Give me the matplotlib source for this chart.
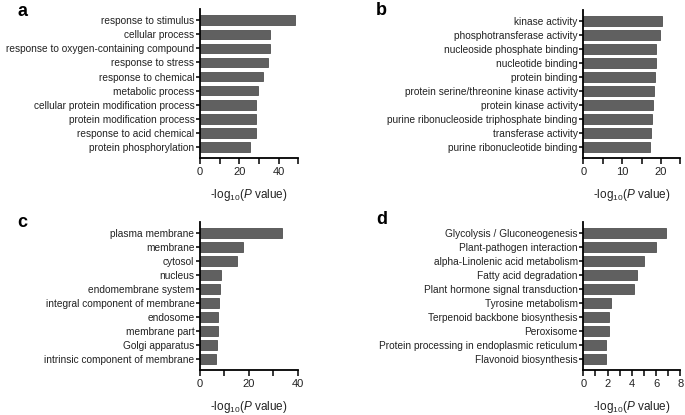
import matplotlib.pyplot as plt
from matplotlib.ticker import MultipleLocator

plt.rcParams['font.family'] = ['Liberation Sans', 'DejaVu Sans']
plt.rcParams['mathtext.fontset'] = 'custom'
plt.rcParams['mathtext.rm'] = 'Liberation Sans'
plt.rcParams['mathtext.it'] = 'Liberation Sans:italic'

# panel a - biological process
terms_a = ['response to stimulus', 'cellular process', 'response to oxygen-containing compound',
           'response to stress', 'response to chemical', 'metabolic process',
           'cellular protein modification process', 'protein modification process',
           'response to acid chemical', 'protein phosphorylation']
vals_a = [48.1, 35.6, 35.6, 34.6, 31.9, 29.4, 28.6, 28.6, 28.6, 25.6]

# panel b - molecular function
terms_b = ['kinase activity', 'phosphotransferase activity', 'nucleoside phosphate binding',
           'nucleotide binding', 'protein binding', 'protein serine/threonine kinase activity',
           'protein kinase activity', 'purine ribonucleoside triphosphate binding',
           'transferase activity', 'purine ribonucleotide binding']
vals_b = [20.2, 19.8, 18.8, 18.8, 18.6, 18.1, 18.0, 17.8, 17.5, 17.3]

# panel c - cellular component
terms_c = ['plasma membrane', 'membrane', 'cytosol', 'nucleus', 'endomembrane system',
           'integral component of membrane', 'endosome', 'membrane part',
           'Golgi apparatus', 'intrinsic component of membrane']
vals_c = [33.6, 17.8, 15.3, 8.7, 8.2, 7.6, 7.4, 7.4, 7.0, 6.6]

# panel d - KEGG pathways
terms_d = ['Glycolysis / Gluconeogenesis', 'Plant-pathogen interaction',
           'alpha-Linolenic acid metabolism', 'Fatty acid degradation',
           'Plant hormone signal transduction', 'Tyrosine metabolism',
           'Terpenoid backbone biosynthesis', 'Peroxisome',
           'Protein processing in endoplasmic reticulum', 'Flavonoid biosynthesis']
vals_d = [6.86, 6.0, 5.0, 4.4, 4.19, 2.31, 2.15, 2.15, 1.9, 1.85]

W, H = 685, 415
fig = plt.figure(figsize=(W / 100, H / 100), dpi=100)


def make_panel(rect, letter, terms, vals, xmax, major, minor, letter_xy):
    left, top, right, bottom = rect
    ax = fig.add_axes([left / W, 1 - bottom / H, (right - left) / W, (bottom - top) / H])
    y = list(range(len(terms)))
    ax.barh(y, vals, height=0.68, color='#606060', edgecolor='#505050', linewidth=0.6)
    ax.set_yticks(y)
    ax.set_yticklabels(terms, fontsize=7.3, color='#222222')
    ax.set_ylim(len(terms) - 0.25, -0.8)
    ax.set_xlim(0, xmax)
    ax.xaxis.set_major_locator(MultipleLocator(major))
    ax.xaxis.set_minor_locator(MultipleLocator(minor))
    ax.tick_params(axis='x', which='both', direction='out', length=4, width=1.1,
                   labelsize=8, pad=3, labelcolor='#222222')
    ax.tick_params(axis='y', direction='out', length=3, width=1.1, pad=1)
    for s in ['top', 'right']:
        ax.spines[s].set_visible(False)
    for s in ['left', 'bottom']:
        ax.spines[s].set_linewidth(1.3)
    ax.set_xlabel('-log$_{10}$($\\it{P}$ value)', fontsize=8.5, labelpad=7, color='#222222')
    fig.text(letter_xy[0] / W, 1 - letter_xy[1] / H, letter, fontsize=13, fontweight='bold',
             ha='left', va='top')
    return ax


make_panel((200, 9, 298.3, 157.5), 'a', terms_a, vals_a, 50, 20, 10, (17, 3))
make_panel((583.3, 10, 680.3, 157.5), 'b', terms_b, vals_b, 25, 10, 5, (376, 2))
make_panel((200, 222, 297.7, 369.5), 'c', terms_c, vals_c, 40, 20, 10, (17, 214))
make_panel((583.3, 222, 680.3, 369.5), 'd', terms_d, vals_d, 8, 2, 1, (376, 211))

fig.savefig('out.png', dpi=100)
